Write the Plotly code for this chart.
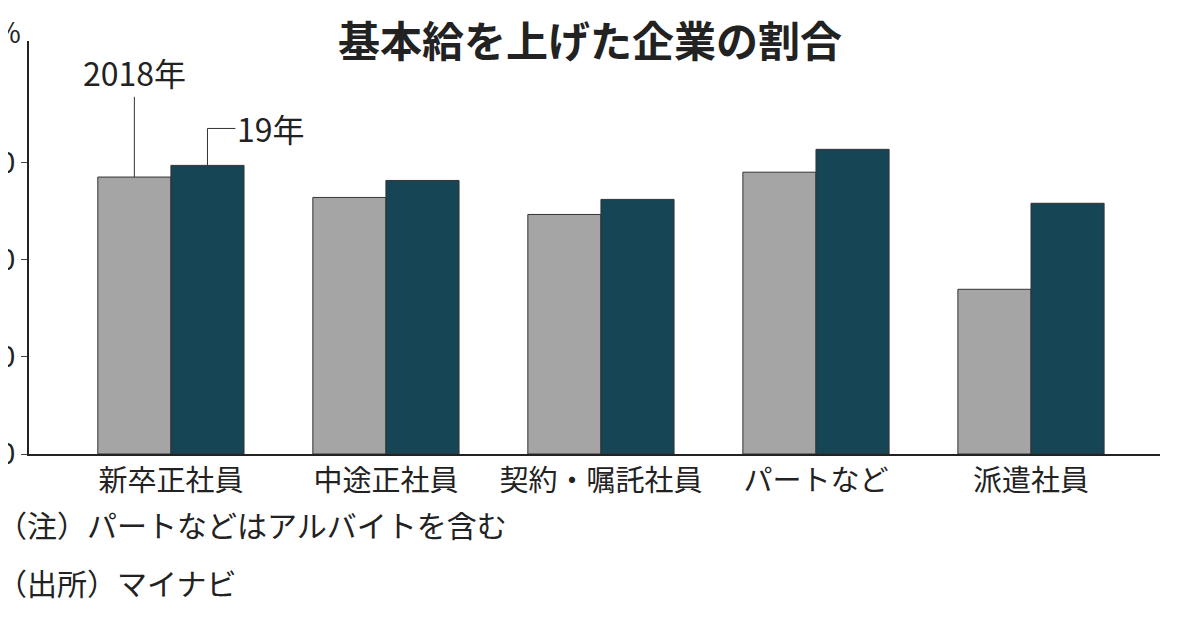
import plotly.graph_objects as go

categories = ["新卒正社員", "中途正社員", "契約・嘱託社員", "パートなど", "派遣社員"]
y2018 = [57.0, 52.8, 49.3, 58.0, 33.9]
y2019 = [59.4, 56.3, 52.4, 62.7, 51.6]
xpos = list(range(len(categories)))

font = "Noto Sans CJK JP"
fig = go.Figure()
fig.add_trace(go.Bar(x=xpos, y=y2018, name="2018年", marker=dict(color="#a5a5a5", line=dict(color="#333", width=1))))
fig.add_trace(go.Bar(x=xpos, y=y2019, name="19年", marker=dict(color="#164556", line=dict(color="#333", width=1))))

fig.update_layout(
    width=1200, height=628, barmode="group", bargap=0.32, bargroupgap=0,
    showlegend=False, plot_bgcolor="white", paper_bgcolor="white",
    margin=dict(l=21, r=48, t=33, b=182),
    font=dict(family=font, size=29, color="#222"),
    title=dict(text="<b>基本給を上げた企業の割合</b>", x=0.485, y=0.945, xanchor="center", yanchor="middle",
               font=dict(size=42, family=font, color="#222")),
    xaxis=dict(tickvals=xpos, ticktext=categories, range=[-0.66, 4.6], showline=True,
               linecolor="#222", linewidth=1.5, ticks="", tickfont=dict(size=29)),
    yaxis=dict(range=[0, 85], tickvals=[0, 20, 40, 60], showline=True, linecolor="#222",
               linewidth=1.5, ticks="outside", ticklen=6, showgrid=False, automargin=False,
               tickfont=dict(size=29)),
)
fig.add_annotation(text="%", xref="paper", yref="paper", x=-0.005, y=0.97, xanchor="right",
                   yanchor="bottom", showarrow=False, font=dict(size=28))
# leader lines
fig.add_shape(type="line", x0=-0.17, x1=-0.17, y0=y2018[0], y1=73.5, line=dict(color="#333", width=1))
fig.add_annotation(text="2018年", x=-0.17, y=73.5, yanchor="bottom", showarrow=False, font=dict(size=32))
fig.add_shape(type="line", x0=0.17, x1=0.17, y0=y2019[0], y1=67.0, line=dict(color="#333", width=1))
fig.add_shape(type="line", x0=0.17, x1=0.3, y0=67.0, y1=67.0, line=dict(color="#333", width=1))
fig.add_annotation(text="19年", x=0.3, y=67.0, xanchor="left", showarrow=False, font=dict(size=32))
fig.add_annotation(text="（注）パートなどはアルバイトを含む", xref="paper", yref="paper",
                   x=-0.03, y=-0.17, xanchor="left", yanchor="middle", showarrow=False,
                   font=dict(size=30))
fig.add_annotation(text="（出所）マイナビ", xref="paper", yref="paper",
                   x=-0.03, y=-0.31, xanchor="left", yanchor="middle", showarrow=False,
                   font=dict(size=30))
fig.write_html("out.html")
